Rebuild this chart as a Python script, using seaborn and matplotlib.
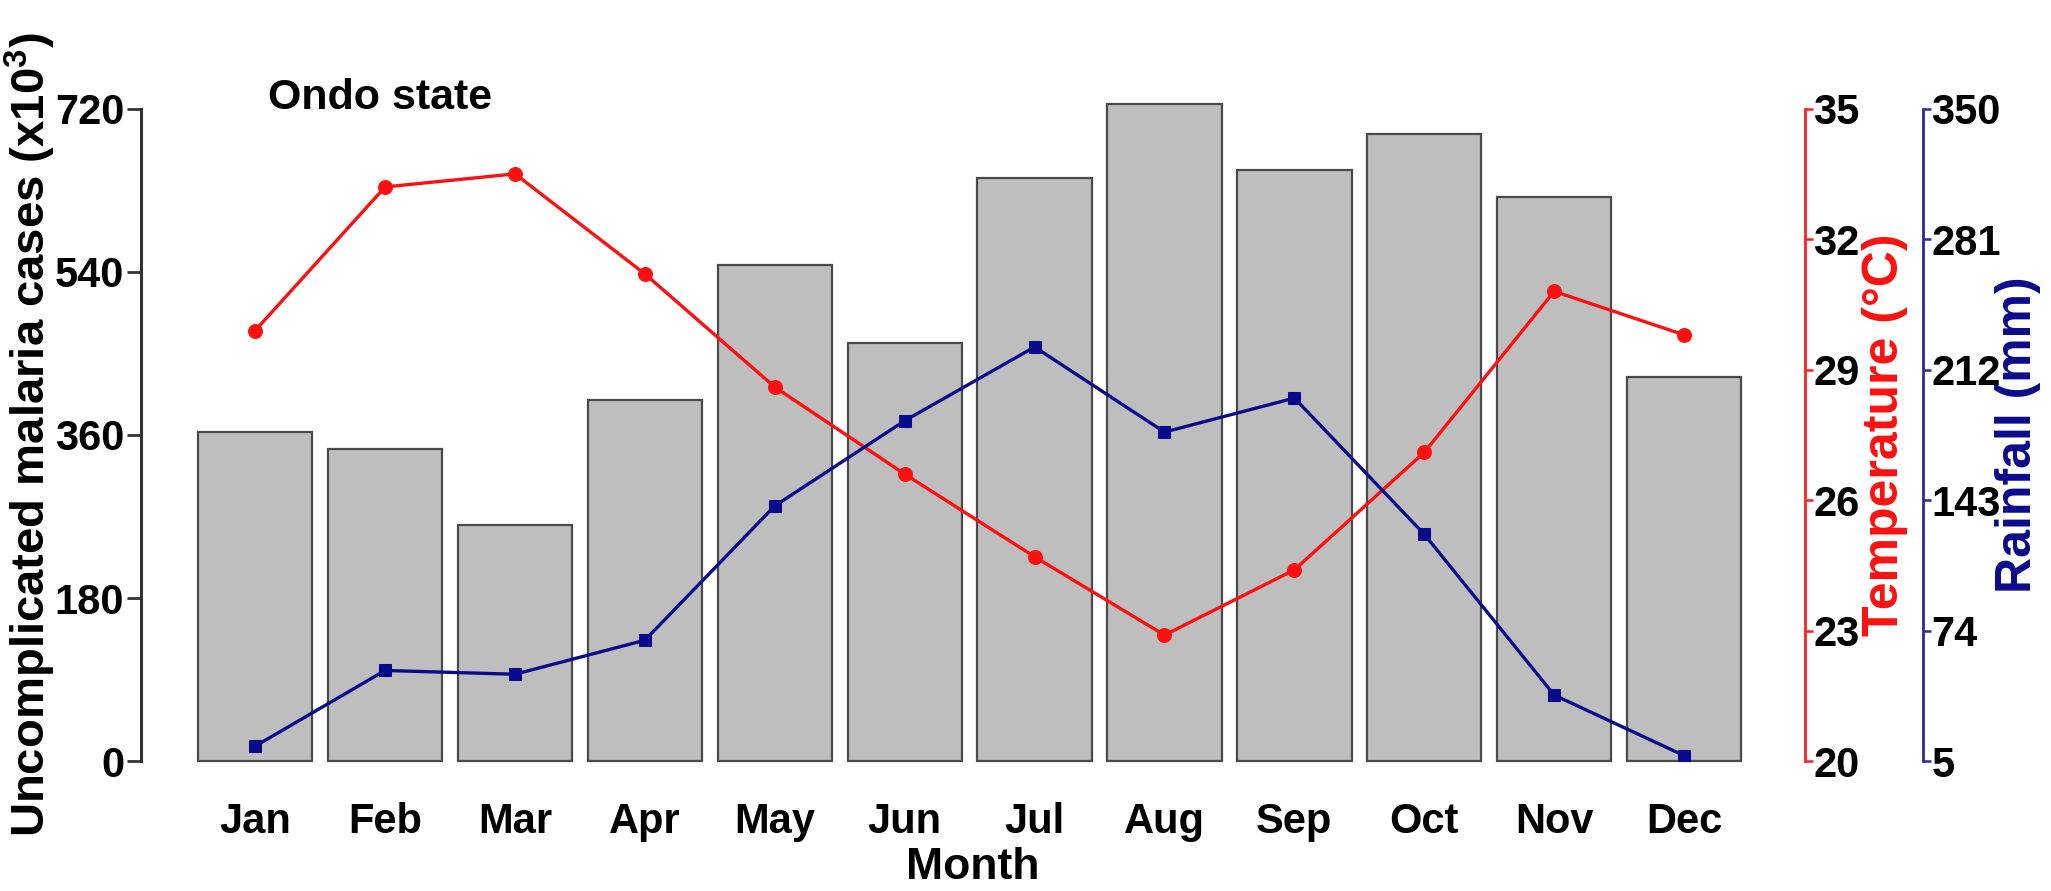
import numpy as np
import pandas as pd
import matplotlib
matplotlib.use("Agg")
import matplotlib.pyplot as plt
import seaborn as sns

# Monthly values for Ondo state
months = ["Jan", "Feb", "Mar", "Apr", "May", "Jun",
          "Jul", "Aug", "Sep", "Oct", "Nov", "Dec"]
cases = [363, 344, 261, 398, 548, 461, 643, 725, 652, 692, 622, 424]   # x10^3
temperature = [29.9, 33.2, 33.5, 31.2, 28.6, 26.6, 24.7, 22.9, 24.4, 27.1, 30.8, 29.8]
rainfall = [13, 53, 51, 69, 140, 185, 224, 179, 197, 125, 40, 8]

case_ticks = [0, 180, 360, 540, 720]
temp_ticks = [20, 23, 26, 29, 32, 35]
rain_ticks = [5, 74, 143, 212, 281, 350]

df = pd.DataFrame({"Month": months, "Cases": cases,
                   "Temp": temperature, "Rain": rainfall,
                   "pos": np.arange(len(months))})

sns.set_theme(style="ticks")
plt.rcParams["font.family"] = ["Liberation Sans", "DejaVu Sans"]
plt.rcParams["font.weight"] = "bold"
plt.rcParams["axes.labelweight"] = "bold"
plt.rcParams["mathtext.default"] = "regular"
plt.rcParams["text.color"] = "black"
plt.rcParams["axes.labelcolor"] = "black"
plt.rcParams["xtick.labelcolor"] = "black"
plt.rcParams["ytick.labelcolor"] = "black"

fig = plt.figure(figsize=(20.51, 8.91), dpi=100)
ax = fig.add_axes([0.0687, 0.1456, 0.8113, 0.7325])

# --- bars: malaria cases ---
sns.barplot(data=df, x="Month", y="Cases", color="#BEBEBE", saturation=1,
            edgecolor="#4a4a4a", linewidth=1.6, width=0.88, ax=ax)
for p in ax.patches:
    p.set_clip_on(False)

ax.set_xlim(-0.88, 11.93)
ax.set_ylim(0, 720)
ax.set_yticks(case_ticks)
ax.spines[["top", "right", "bottom"]].set_visible(False)
ax.spines["left"].set_bounds(0, 720)
ax.spines["left"].set_linewidth(2.2)
ax.spines["left"].set_color("#333333")
ax.tick_params(axis="y", direction="out", length=10, width=2, color="#333333",
               labelsize=30, pad=2)
ax.tick_params(axis="x", length=0, labelsize=30, pad=29)
ax.set_xlabel("Month", fontsize=32, labelpad=4)
ax.set_ylabel("Uncomplicated malaria cases (x10$^{3}$)", fontsize=34, labelpad=-2)
ax.text(0.0763, 1.016, "Ondo state", transform=ax.transAxes,
        fontsize=31, fontweight="bold", va="center", ha="left")

# --- temperature axis ---
ax2 = ax.twinx()
sns.lineplot(data=df, x="pos", y="Temp", ax=ax2, color="#FF1010", linewidth=2.4,
             marker="o", markersize=10, markeredgecolor="#FF1010")
ax2.set_ylim(20, 35)
ax2.set_yticks(temp_ticks)
ax2.spines[["top", "left", "bottom"]].set_visible(False)
ax2.spines["right"].set_bounds(20, 35)
ax2.spines["right"].set_color("#FF2020")
ax2.spines["right"].set_linewidth(2)
ax2.tick_params(axis="y", direction="out", length=6, width=1.8, color="#FF2020",
                labelsize=30, pad=0)
ax2.set_ylabel("Temperature (°C)", fontsize=36, color="#FF1010", labelpad=2)

# --- rainfall axis ---
ax3 = ax.twinx()
ax3.spines["right"].set_position(("outward", 85))
sns.lineplot(data=df, x="pos", y="Rain", ax=ax3, color="#0A0A8C", linewidth=2.4,
             marker="s", markersize=9, markeredgecolor="#0A0A8C")
ax3.set_ylim(5, 350)
ax3.set_yticks(rain_ticks)
ax3.spines[["top", "left", "bottom"]].set_visible(False)
ax3.spines["right"].set_bounds(5, 350)
ax3.spines["right"].set_color("#2A2A9A")
ax3.spines["right"].set_linewidth(2)
ax3.tick_params(axis="y", direction="out", length=6, width=1.8, color="#2A2A9A",
                labelsize=30, pad=0)
ax3.set_ylabel("Rainfall (mm)", fontsize=36, color="#0A0A8C", labelpad=-4)

for a in (ax2, ax3):
    a.set_xlabel("")
    a.set_xlim(-0.88, 11.93)

fig.savefig("out.png", dpi=100)
